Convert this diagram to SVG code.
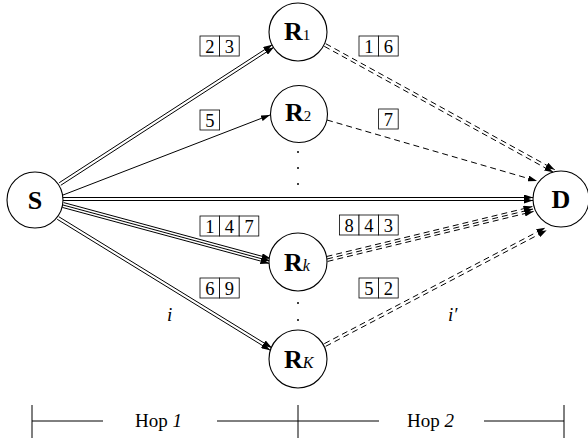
<svg xmlns="http://www.w3.org/2000/svg" width="588" height="443" viewBox="0 0 588 443">
  <style>
    .node circle { fill: #fff; stroke: #000; stroke-width: 1.1; }
    .lbl { font-family: "Liberation Serif", "Times New Roman", serif; font-weight: bold; font-size: 26px; fill: #000; }
    .sub { font-family: "Liberation Serif", "Times New Roman", serif; font-weight: normal; font-size: 15px; }
    .subi { font-family: "Liberation Serif", "Times New Roman", serif; font-weight: normal; font-style: italic; font-size: 16px; }
    .edge { stroke: #000; stroke-width: 1; fill: none; marker-end: url(#arrow); }
    .dash { stroke-dasharray: 6 4; }
    .box rect { fill: #fff; stroke: #000; stroke-width: 0.8; }
    .box text { font-family: "Liberation Serif", "Times New Roman", serif; font-size: 18.5px; text-anchor: middle; fill: #000; }
    .note { font-family: "Liberation Serif", "Times New Roman", serif; font-style: italic; font-size: 19px; fill: #000; }
    .scale line { stroke: #000; stroke-width: 1; }
    .scale text { font-family: "Liberation Serif", "Times New Roman", serif; font-size: 19px; fill: #000; }
    .dot { fill: #000; }
  </style>
  <defs>
    <marker id="arrow" viewBox="0 0 9 6" refX="9" refY="3" markerWidth="9" markerHeight="6" markerUnits="userSpaceOnUse" orient="auto">
      <path d="M0,0 L9,3 L0,6 z" fill="#000"/>
    </marker>
  </defs>

  <rect width="588" height="443" fill="#fff"/>

  <!-- connectors: one line per packet -->
  <g id="connectors">
    <!-- hop 1 -->
    <line class="edge" x1="59.18" y1="182.74" x2="272.18" y2="44.74"/>
    <line class="edge" x1="60.82" y1="185.26" x2="273.82" y2="47.26"/>
    <line class="edge" x1="63" y1="195" x2="270" y2="115"/>
    <line class="edge" x1="63" y1="197.5" x2="533" y2="197.5"/>
    <line class="edge" x1="63" y1="200.5" x2="533" y2="200.5"/>
    <line class="edge" x1="63.65" y1="202.59" x2="270.65" y2="258.59"/>
    <line class="edge" x1="63" y1="205" x2="270" y2="261"/>
    <line class="edge" x1="62.35" y1="207.41" x2="269.35" y2="263.41"/>
    <line class="edge" x1="58.79" y1="216.72" x2="271.79" y2="347.72"/>
    <line class="edge" x1="57.21" y1="219.28" x2="270.21" y2="350.28"/>
    <!-- hop 2 -->
    <line class="edge dash" x1="325.72" y1="43.69" x2="554.72" y2="169.69"/>
    <line class="edge dash" x1="324.28" y1="46.31" x2="553.28" y2="172.31"/>
    <line class="edge dash" x1="327" y1="120" x2="537" y2="181"/>
    <line class="edge dash" x1="326.41" y1="256.57" x2="532.41" y2="206.57"/>
    <line class="edge dash" x1="327" y1="259" x2="533" y2="209"/>
    <line class="edge dash" x1="327.59" y1="261.43" x2="533.59" y2="211.43"/>
    <line class="edge dash" x1="324.30" y1="343.67" x2="545.30" y2="227.67"/>
    <line class="edge dash" x1="325.70" y1="346.33" x2="546.70" y2="230.33"/>
  </g>

  <!-- packet index boxes -->
  <g class="box" id="pkts-S-R1">
    <rect x="200" y="36" width="19.6" height="20"/><rect x="219.6" y="36" width="19.6" height="20"/>
    <text x="209.8" y="52.5">2</text><text x="229.4" y="52.5">3</text>
  </g>
  <g class="box" id="pkts-S-R2">
    <rect x="200" y="110" width="19.6" height="20"/>
    <text x="209.8" y="126.5">5</text>
  </g>
  <g class="box" id="pkts-S-Rk">
    <rect x="200" y="216" width="19.6" height="20"/><rect x="219.6" y="216" width="19.6" height="20"/><rect x="239.2" y="216" width="19.6" height="20"/>
    <text x="209.8" y="232.5">1</text><text x="229.4" y="232.5">4</text><text x="249" y="232.5">7</text>
  </g>
  <g class="box" id="pkts-S-RK">
    <rect x="200" y="278" width="19.6" height="20"/><rect x="219.6" y="278" width="19.6" height="20"/>
    <text x="209.8" y="294.5">6</text><text x="229.4" y="294.5">9</text>
  </g>
  <g class="box" id="pkts-R1-D">
    <rect x="359" y="36" width="19.6" height="20"/><rect x="378.6" y="36" width="19.6" height="20"/>
    <text x="368.8" y="52.5">1</text><text x="388.4" y="52.5">6</text>
  </g>
  <g class="box" id="pkts-R2-D">
    <rect x="378.6" y="109" width="19.6" height="20"/>
    <text x="388.4" y="125.5">7</text>
  </g>
  <g class="box" id="pkts-Rk-D">
    <rect x="339.4" y="215" width="19.6" height="20"/><rect x="359" y="215" width="19.6" height="20"/><rect x="378.6" y="215" width="19.6" height="20"/>
    <text x="349.2" y="231.5">8</text><text x="368.8" y="231.5">4</text><text x="388.4" y="231.5">3</text>
  </g>
  <g class="box" id="pkts-RK-D">
    <rect x="359" y="278" width="19.6" height="20"/><rect x="378.6" y="278" width="19.6" height="20"/>
    <text x="368.8" y="294.5">5</text><text x="388.4" y="294.5">2</text>
  </g>

  <!-- link labels -->
  <text class="note" x="167" y="321">i</text>
  <text class="note" x="448" y="321">i′</text>

  <!-- ellipsis dots between relays -->
  <g id="dots">
    <circle class="dot" cx="298" cy="152" r="1"/>
    <circle class="dot" cx="298" cy="168" r="1"/>
    <circle class="dot" cx="298" cy="184" r="1"/>
    <circle class="dot" cx="298" cy="303" r="1"/>
    <circle class="dot" cx="298" cy="320" r="1"/>
  </g>

  <!-- nodes -->
  <g class="node" id="S">
    <circle cx="35" cy="200" r="28"/>
    <text class="lbl" x="35" y="209" text-anchor="middle">S</text>
  </g>
  <g class="node" id="R1">
    <circle cx="298" cy="32" r="29"/>
    <text class="lbl" x="284" y="40">R<tspan class="sub">1</tspan></text>
  </g>
  <g class="node" id="R2">
    <circle cx="299" cy="114" r="28.5"/>
    <text class="lbl" x="285" y="121">R<tspan class="sub">2</tspan></text>
  </g>
  <g class="node" id="Rk">
    <circle cx="298" cy="262" r="29"/>
    <text class="lbl" x="284" y="271">R<tspan class="subi">k</tspan></text>
  </g>
  <g class="node" id="RK">
    <circle cx="298" cy="359" r="29"/>
    <text class="lbl" x="284" y="368">R<tspan class="subi">K</tspan></text>
  </g>
  <g class="node" id="D">
    <circle cx="561" cy="199" r="28"/>
    <text class="lbl" x="561" y="208" text-anchor="middle">D</text>
  </g>

  <!-- hop scale -->
  <g class="scale" id="hops">
    <line x1="32" y1="405" x2="32" y2="438"/>
    <line x1="298" y1="405" x2="298" y2="438"/>
    <line x1="564" y1="405" x2="564" y2="438"/>
    <line x1="32" y1="421" x2="103" y2="421"/>
    <line x1="217" y1="421" x2="379" y2="421"/>
    <line x1="484" y1="421" x2="564" y2="421"/>
    <text x="135" y="427">Hop <tspan font-style="italic">1</tspan></text>
    <text x="407" y="427">Hop <tspan font-style="italic">2</tspan></text>
  </g>
</svg>
